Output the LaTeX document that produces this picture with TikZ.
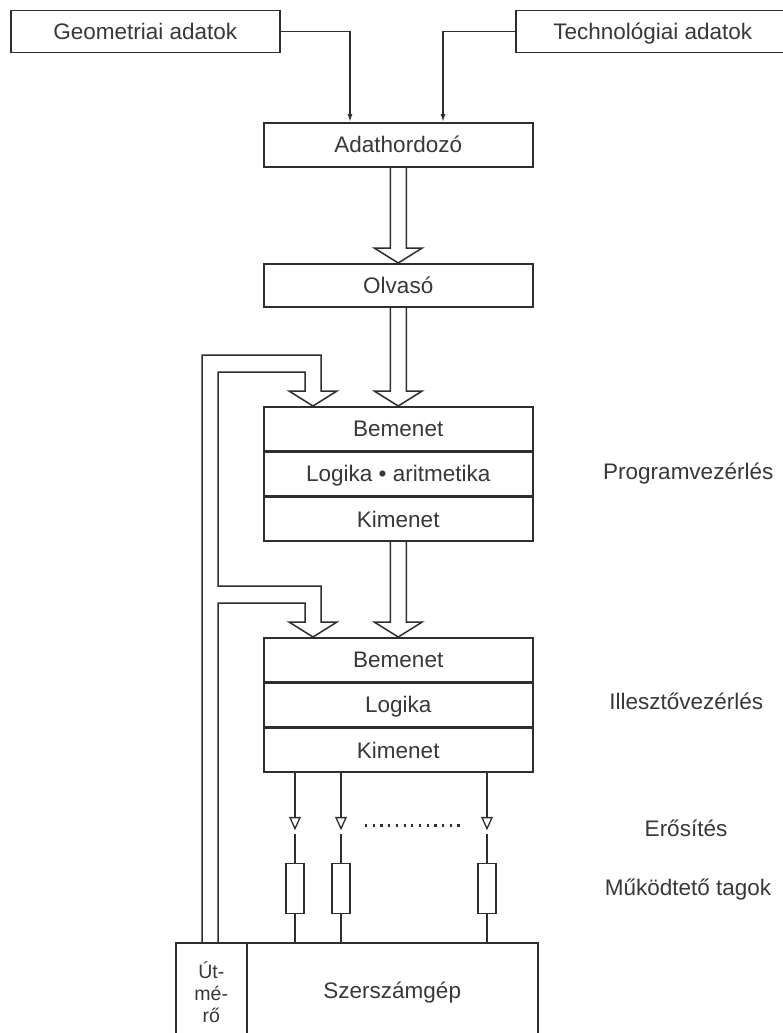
\documentclass[tikz,border=0pt]{standalone}
\usepackage{fontspec}
\setmainfont{Liberation Sans}
\usetikzlibrary{calc,arrows.meta}
\definecolor{ink}{gray}{0.18}
\definecolor{txt}{gray}{0.22}
\newcommand{\hollowarrow}[2]{%
  \draw[ln] ($(#1)+(-8,0)$) -- ($(#2)+(-8,-15)$) -- ($(#2)+(-24,-15)$) -- (#2)
    -- ($(#2)+(24,-15)$) -- ($(#2)+(8,-15)$) -- ($(#1)+(8,0)$);}
\begin{document}
\begin{tikzpicture}[x=1pt,y=-1pt,
  ln/.style={draw=ink,line width=1.5pt,line join=miter},
  box/.style={draw=ink,line width=1.5pt,text=txt,inner sep=0pt,anchor=north west,
              minimum width=269pt,text height=16pt,text depth=0pt},
  arr/.style={draw=ink,line width=1.5pt,-{Latex[length=8pt,width=5pt]}},
  lbl/.style={text=txt,inner sep=0pt,text height=16pt,text depth=0pt},
  res/.style={draw=ink,line width=1.5pt,minimum width=18pt,minimum height=50pt,inner sep=0pt},
  dotline/.style={draw=ink,line width=2.4pt,dash pattern=on 2.2pt off 5.5pt},
  font=\fontsize{22.5}{26}\selectfont]
\clip (0,0) rectangle (783,1033);
\fill[white] (0,0) rectangle (783,1033);

% top data boxes
\node[box,minimum height=42pt] (geo) at (10,10) {Geometriai adatok};
\node[box,minimum width=274pt,minimum height=42pt] (tech) at (515,10) {Technológiai adatok};

% main chain
\node[box,minimum height=44pt] (adat) at (263,122) {Adathordozó};
\node[box,minimum height=43pt] (olv) at (263,263) {Olvasó};

\node[box,minimum height=43.7pt] (prog1) at (263,406) {Bemenet};
\node[box,minimum height=43.7pt] (prog2) at (prog1.south west) {Logika • aritmetika};
\node[box,minimum height=43.7pt] (prog3) at (prog2.south west) {Kimenet};

\node[box,minimum height=43.7pt] (ill1) at (263,637) {Bemenet};
\node[box,minimum height=43.7pt] (ill2) at (ill1.south west) {Logika};
\node[box,minimum height=43.7pt] (ill3) at (ill2.south west) {Kimenet};

% bottom machine
\node[box,minimum width=71pt,minimum height=98pt] (ut) at (175,942) {};
\node[box,minimum width=291pt,minimum height=96pt] (sz) at (246,942) {Szerszámgép};
\node[text=txt,inner sep=0pt,align=center,font=\fontsize{19.5}{21.8}\selectfont]
  (utt) at ($(ut.north)+(0,50)$) {Út-\\mé-\\rő};

% input connectors
\draw[arr] (geo.east) -| ($(adat.north west)+(87,0)$);
\draw[arr] (tech.west) -| ($(adat.north west)+(180,0)$);

% hollow arrows
\hollowarrow{adat.south}{olv.north}
\hollowarrow{olv.south}{prog1.north}
\hollowarrow{prog3.south}{ill1.north}

% feedback pipe from the path measuring unit
\coordinate (pA) at ($(ut.north west)+(27,0)$);
\coordinate (pB) at ($(ut.north west)+(43,0)$);
\coordinate (fb1) at ($(prog1.north west)+(50,0)$);
\coordinate (fb2) at ($(ill1.north west)+(50,0)$);
\draw[ln] (pA) |- ($(fb1)+(8,-51)$) -- ($(fb1)+(8,-15)$) -- ($(fb1)+(24,-15)$) -- (fb1)
  -- ($(fb1)+(-24,-15)$) -- ($(fb1)+(-8,-15)$) -- ($(fb1)+(-8,-34)$)
  -- ($(pB|-fb1)+(0,-34)$) -- ($(pB|-fb2)+(0,-51)$) -- ($(fb2)+(8,-51)$)
  -- ($(fb2)+(8,-15)$) -- ($(fb2)+(24,-15)$) -- (fb2) -- ($(fb2)+(-24,-15)$)
  -- ($(fb2)+(-8,-15)$) -- ($(fb2)+(-8,-34)$) -- ($(pB|-fb2)+(0,-34)$) -- (pB);

% amplifiers and actuators
\foreach \i/\dx in {1/32,2/78,3/224}{
  \coordinate (amp\i) at ($(ill3.south west)+(\dx,45)$);
  \node[res] (r\i) at ($(ill3.south west)+(\dx,116)$) {};
  \draw[ln] (ill3.south -| amp\i) -- (amp\i);
  \draw[ln,line width=1.3pt,fill=white] ($(amp\i)+(-5,0)$) -- ($(amp\i)+(5,0)$) -- ($(amp\i)+(0,11)$) -- cycle;
  \draw[ln] ($(amp\i)+(0,16)$) -- (r\i.north);
  \draw[ln] (r\i.south) -- (r\i.south |- sz.north);
}
\draw[dotline] ($(amp2)+(24,8)$) -- ($(amp3)+(-22,8)$);

% right-hand labels
\node[lbl] (lp) at ($(prog2.center)+(290,-2)$) {Programvezérlés};
\node[lbl] (li) at ($(ill2.center)+(288,-3)$) {Illesztővezérlés};
\node[lbl] (le) at ($(amp3)+(199,11)$) {Erősítés};
\node[lbl] (lm) at ($(r3.center)+(201,-1)$) {Működtető tagok};
\end{tikzpicture}
\end{document}
